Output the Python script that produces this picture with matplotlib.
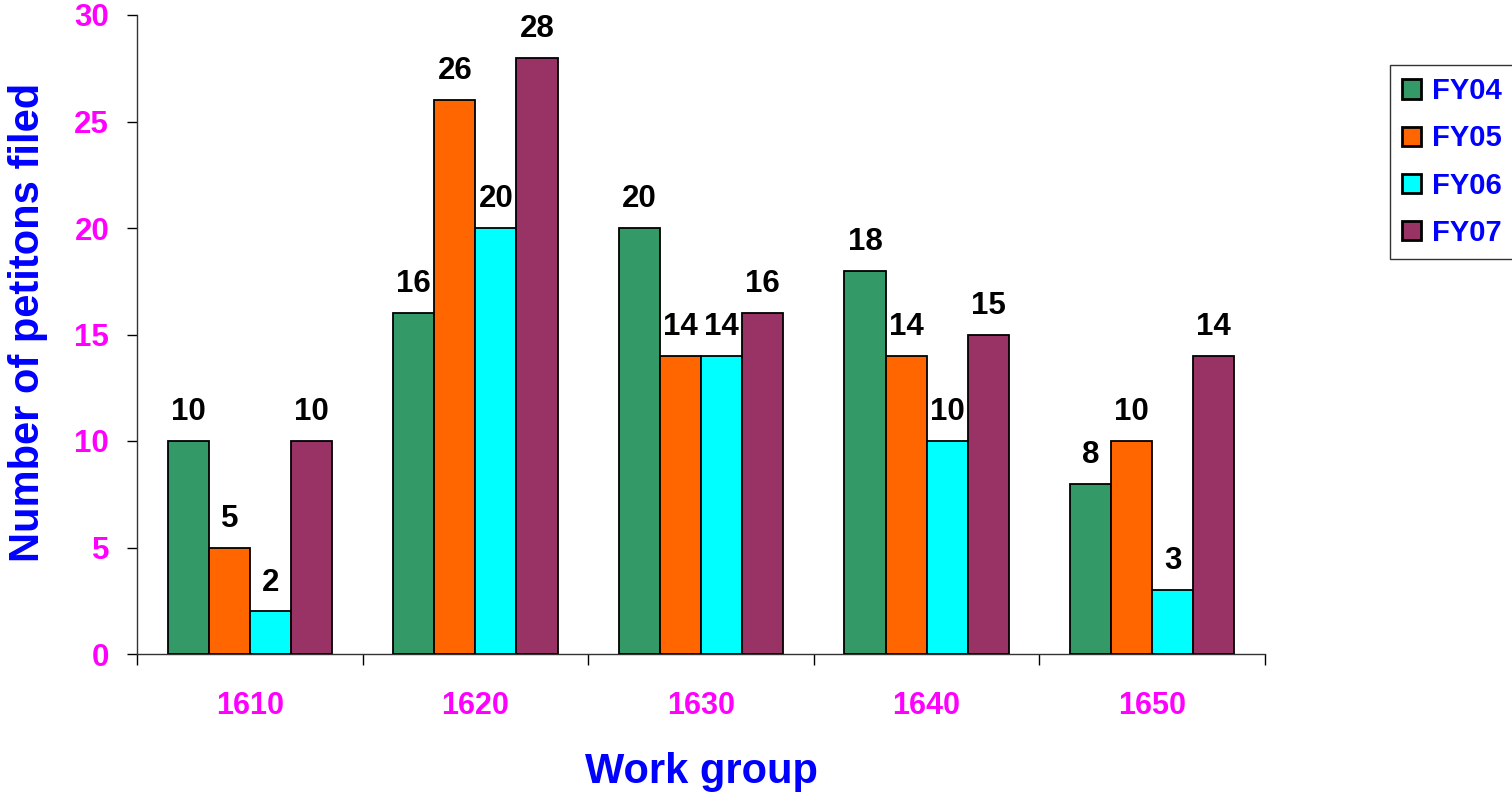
import matplotlib.pyplot as plt
import numpy as np

plt.rcParams['font.family'] = ['Liberation Sans', 'DejaVu Sans']
plt.rcParams['font.weight'] = 'bold'

groups = ['1610', '1620', '1630', '1640', '1650']
years = ['FY04', 'FY05', 'FY06', 'FY07']
fy04 = [10, 16, 20, 18, 8]
fy05 = [5, 26, 14, 14, 10]
fy06 = [2, 20, 14, 10, 3]
fy07 = [10, 28, 16, 15, 14]
colors = ['#339966', '#FF6600', '#00FFFF', '#993366']

fig = plt.figure(figsize=(15.12, 7.99), dpi=100)
ax = fig.add_axes([137/1512, 1 - 654/799, 1128/1512, 639/799])

x = np.arange(len(groups))
w = 0.182
series = [fy04, fy05, fy06, fy07]
for i, vals in enumerate(series):
    pos = x + (i - 1.5) * w
    ax.bar(pos, vals, w, color=colors[i], edgecolor='black',
           linewidth=1.3, label=years[i], zorder=3)
    for xp, v in zip(pos, vals):
        ax.annotate(str(v), (xp, v), xytext=(0, 10), textcoords='offset points',
                    ha='center', va='bottom', fontsize=22.5, fontweight='bold',
                    color='black')

ax.set_xlim(-0.5, 4.5)
ax.set_ylim(0, 30)
ax.set_yticks(np.arange(0, 31, 5))
ax.tick_params(axis='y', labelsize=22.5, labelcolor='#FF00FF', length=7,
               width=1, direction='out', pad=13)

# group boundaries get the tick marks, centres get the labels
ax.set_xticks(np.arange(-0.5, 5, 1))
ax.set_xticklabels([])
ax.set_xticks(x, minor=True)
ax.set_xticklabels(groups, minor=True)
ax.tick_params(axis='x', which='major', length=8, width=1, direction='out')
ax.tick_params(axis='x', which='minor', length=0, labelsize=22,
               labelcolor='#FF00FF', pad=27)

for s in ['top', 'right']:
    ax.spines[s].set_visible(False)
for s in ['left', 'bottom']:
    ax.spines[s].set_color('#333333')
    ax.spines[s].set_linewidth(1)

fig.text(28/1512, 1 - 322/799, 'Number of petitons filed', rotation=90,
         ha='center', va='center', fontsize=30, fontweight='bold', color='#0000FF')
fig.text(701/1512, 1 - 783/799, 'Work group', ha='center', va='baseline',
         fontsize=30, fontweight='bold', color='#0000FF')

leg = ax.legend(loc='upper left', bbox_to_anchor=(1390/1512, 1 - 65/799),
                bbox_transform=fig.transFigure, borderaxespad=0,
                fontsize=21, handlelength=0.65, handleheight=0.65,
                handletextpad=0.38, labelspacing=0.66, borderpad=0.42,
                fancybox=False, framealpha=1, edgecolor='#333333')
leg.get_frame().set_linewidth(1)
for t in leg.get_texts():
    t.set_color('#0000FF')
    t.set_fontweight('bold')
for h in leg.legend_handles:
    h.set_linewidth(2)

fig.savefig('out.png', dpi=100)
